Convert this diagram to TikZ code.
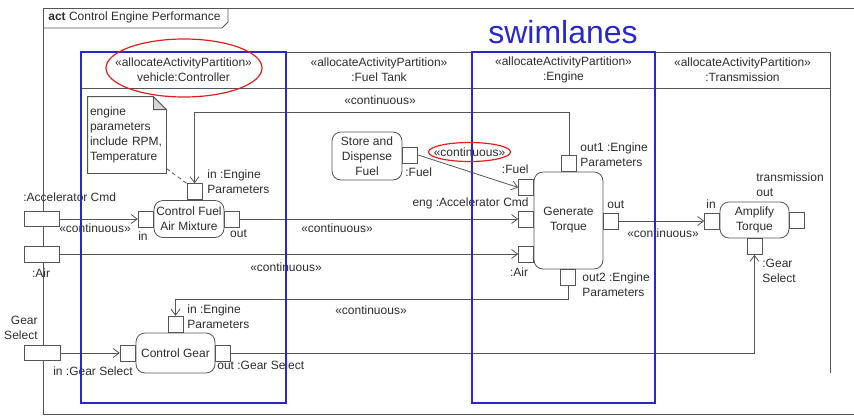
\documentclass[tikz,border=0pt]{standalone}
\usepackage{fontspec}
\setmainfont{Liberation Sans}
\usetikzlibrary{arrows.meta}

\definecolor{ink}{RGB}{45,45,45}
\definecolor{linegray}{RGB}{85,85,85}
\definecolor{foldgray}{RGB}{215,215,215}
\definecolor{laneblue}{RGB}{40,40,205}
\definecolor{ringred}{RGB}{228,30,30}

\begin{document}
\begin{tikzpicture}[x=1pt, y=-1pt,
  font=\fontsize{12}{15}\selectfont, color=linegray, text=ink, line width=0.8pt,
  pinbox/.style={draw=linegray, fill=white, inner sep=0pt, minimum width=15pt, minimum height=16pt},
  framepin/.style={pinbox, minimum width=35pt, minimum height=15pt},
  action/.style={draw=linegray, fill=white, rounded corners=9pt, inner sep=0pt, align=center},
  flow/.style={-{Straight Barb[length=6pt,width=9pt]}},
  lbl/.style={inner sep=0pt, align=left},
  stereo/.style={inner sep=0pt},
  lanebox/.style={draw=laneblue, line width=2.6pt},
  redring/.style={draw=ringred, line width=1.2pt}]

\useasboundingbox (0,0) rectangle (854,416);

% activity frame and its name tab
\draw (43,414) -- (43,8) -- (860,8);
\draw (43,414) -- (860,414);
\draw (43,28) -- (222,28) -- (228,22) -- (228,8);
\node[anchor=mid west, inner sep=0pt] (title) at (48,18) {\textbf{act} Control Engine Performance};

% partition table
\draw (81,52) -- (830,52) (81,88) -- (830,88);
\foreach \x in {81,286,472,655} \draw (\x,52) -- (\x,400);
\draw (830,52) -- (830,373);

\node[stereo, align=center] (hCtrl)  at (183.5,70) {«allocateActivityPartition»\\vehicle:Controller};
\node[stereo, align=center] (hFuel)  at (379,70)   {«allocateActivityPartition»\\:Fuel Tank};
\node[stereo, align=center] (hEng)   at (563.5,70) {«allocateActivityPartition»\\:Engine};
\node[stereo, align=center] (hTrans) at (742.5,70) {«allocateActivityPartition»\\:Transmission};

% comment note
\node[lbl, minimum width=78pt, minimum height=76pt, text width=74pt] (note) at (127,135)
  {engine\\parameters\\include RPM,\\Temperature};
\draw (note.north west) -- ([xshift=-13pt]note.north east) -- ([yshift=-13pt]note.north east)
  -- (note.south east) -- (note.south west) -- cycle;
\draw[fill=foldgray] ([xshift=-13pt]note.north east) -- ([xshift=-13pt,yshift=-13pt]note.north east)
  -- ([yshift=-13pt]note.north east) -- cycle;

% actions
\node[action, minimum width=70pt, minimum height=37pt] (cfam) at (189,219)   {Control Fuel\\Air Mixture};
\node[action, minimum width=79pt, minimum height=40pt] (cg)   at (175.5,353) {Control Gear};
\node[action, minimum width=70pt, minimum height=48pt] (sdf)  at (367,156)   {Store and\\Dispense\\Fuel};
\node[action, minimum width=69pt, minimum height=97pt] (gt)   at (568.5,220.5) {Generate\\Torque};
\node[action, minimum width=69pt, minimum height=36pt] (amp)  at (754.5,220) {Amplify\\Torque};

% pins
\node[pinbox, anchor=east]  (cfamIn)  at (cfam.west) {};
\node[pinbox, anchor=west]  (cfamOut) at (cfam.east) {};
\node[pinbox, anchor=south] (cfamTop) at ([xshift=5.5pt]cfam.north) {};
\node[pinbox, anchor=east]  (cgIn)    at (cg.west) {};
\node[pinbox, anchor=west]  (cgOut)   at (cg.east) {};
\node[pinbox, anchor=south] (cgTop)   at (cg.north) {};
\node[pinbox, anchor=west]  (sdfOut)  at ([yshift=1pt]sdf.east) {};
\node[pinbox, anchor=east]  (gtFuel)  at (534,187.5) {};
\node[pinbox, anchor=east]  (gtAcc)   at (534,219) {};
\node[pinbox, anchor=east]  (gtAir)   at (534,254) {};
\node[pinbox, anchor=south] (gtOut1)  at (569,172) {};
\node[pinbox, anchor=north] (gtOut2)  at (568,269) {};
\node[pinbox, anchor=west]  (gtOut)   at (603,221) {};
\node[pinbox, anchor=east]  (atIn)    at (720,221) {};
\node[pinbox, anchor=west]  (atOut)   at (789,220.5) {};
\node[pinbox, anchor=north] (atGear)  at (754.5,238) {};

\node[framepin] (pAcc)  at (41.5,219) {};
\node[framepin, minimum height=16pt] (pAir) at (41.5,254) {};
\node[framepin, minimum width=36pt] (pGear) at (42,353) {};

% object flows
\coordinate (engLoop) at (194.5,112);
\draw[flow] (gtOut1.north) |- (engLoop) -- (cfamTop.north);
\draw[flow] (pAcc.east) -- (cfamIn.west);
\draw[flow] (cfamOut.east) -- (gtAcc.west);
\draw[flow] (pAir.east) -- (gtAir.west);
\draw[flow] (sdfOut.east) -- (gtFuel.west);
\coordinate (gearLoop) at (175.5,299);
\draw[flow] (gtOut2.south) |- (gearLoop) -- (cgTop.north);
\draw[flow] (pGear.east) -- (cgIn.west);
\draw[flow] (cgOut.east) -| (atGear.south);
\draw[flow] (gtOut.east) -- (atIn.west);
\draw[dash pattern=on 4pt off 3pt] ([yshift=5pt]note.south east) -- (cfamTop.north west);

% flow stereotypes
\node[stereo] (sLoop)  at (380,100)   {«continuous»};
\node[stereo] (sAcc)   at (95,228.5)  {«continuous»};
\node[stereo] (sMix)   at (337,228.5) {«continuous»};
\node[stereo] (sAir)   at (286,267)   {«continuous»};
\node[stereo] (sFuel)  at (469.5,152) {«continuous»};
\node[stereo] (sGear)  at (371,310)   {«continuous»};
\node[stereo] (sTorq)  at (663,233.5) {«continuous»};

% pin labels
\node[lbl, anchor=mid west] (lAcc)   at (23,199)   {:Accelerator Cmd};
\node[lbl] (lAir)    at (41,273)    {:Air};
\node[lbl, anchor=east, align=right] (lGear) at (38,327.5) {Gear\\Select};
\node[lbl] (lCfIn)   at (143,236.5) {in};
\node[lbl] (lCfOut)  at (238.5,234) {out};
\node[lbl, anchor=west] (lCfTop) at (207,182) {in :Engine\\Parameters};
\node[lbl] (lCgIn)   at (93,371)    {in :Gear Select};
\node[lbl, anchor=west] (lCgTop) at (187,316.5) {in :Engine\\Parameters};
\node[lbl, anchor=mid west] (lCgOut) at (217,367) {out :Gear Select};
\node[lbl, anchor=mid west] (lSdf) at (405,174) {:Fuel};
\node[lbl, anchor=mid east] (lGtFuel) at (529,171) {:Fuel};
\node[lbl, anchor=mid east] (lGtAcc)  at (529,204) {eng :Accelerator Cmd};
\node[lbl] (lGtAir)  at (519,272)   {:Air};
\node[lbl, anchor=west] (lOut1) at (580,154.5) {out1 :Engine\\Parameters};
\node[lbl, anchor=west] (lOut2) at (582,285)   {out2 :Engine\\Parameters};
\node[lbl, anchor=mid west] (lGtOut) at (607,206) {out};
\node[lbl, anchor=mid west] (lAtIn)  at (706,206) {in};
\node[lbl, anchor=west] (lAtOut) at (756,185)  {transmission\\out};
\node[lbl, anchor=west] (lAtGear) at (762,270.5) {:Gear\\Select};

% highlighted swimlanes
\draw[lanebox] (81,52) rectangle (286,403);
\draw[lanebox] (472,52) rectangle (655,403);
\node[inner sep=0pt, text=laneblue, font=\fontsize{32}{38}\selectfont, anchor=base] (swim) at (563,43) {swimlanes};

% highlighted annotations
\draw[redring] (184,68) ellipse [x radius=78pt, y radius=29pt];
\draw[redring] (469.5,152) ellipse [x radius=41pt, y radius=9.5pt];
\end{tikzpicture}
\end{document}
